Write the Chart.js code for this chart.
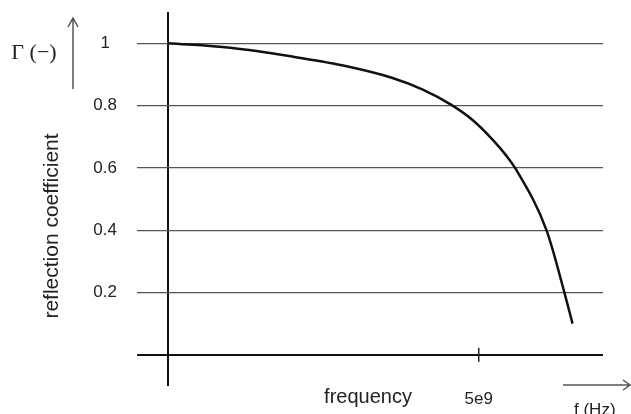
<!DOCTYPE html>
<html>
<head>
<meta charset="utf-8">
<script src="https://cdn.jsdelivr.net/npm/chart.js@4"></script>
<style>
  html, body { margin: 0; padding: 0; background: #fff; }
  #wrap { width: 631px; height: 414px; }
</style>
</head>
<body>
<div id="wrap"><canvas id="gammaChart" width="631" height="414"></canvas></div>
<script>
// frequency in GHz
const freqGHz = [0, 1.0, 2.0, 2.8, 3.6, 4.1, 4.56, 4.91, 5.23, 5.44, 5.60, 6.09, 6.38, 6.51];
// reflection coefficient at those frequencies
const gamma = [1.0, 0.985, 0.957, 0.929, 0.889, 0.851, 0.802, 0.752, 0.689, 0.640, 0.595, 0.40, 0.199, 0.10];
// tick values shown on the axes
const yTicks = [0, 0.2, 0.4, 0.6, 0.8, 1];
const xTicks = [0, 5e9];

const points = freqGHz.map((f, i) => ({ x: f * 1e9, y: gamma[i] }));

// axis tick at 5e9, arrows and axis texts
const decorations = {
  id: 'decorations',
  afterDraw(chart) {
    const ctx = chart.ctx;
    const xs = chart.scales.x;
    const ys = chart.scales.y;
    const y0 = ys.getPixelForValue(0);
    const xt = xs.getPixelForValue(5e9);

    ctx.save();
    // small tick mark on the frequency axis
    ctx.strokeStyle = '#222';
    ctx.lineWidth = 1.5;
    ctx.beginPath();
    ctx.moveTo(xt, y0 - 7);
    ctx.lineTo(xt, y0 + 7);
    ctx.stroke();

    // arrows
    ctx.strokeStyle = '#555';
    ctx.lineWidth = 1.5;
    ctx.beginPath();
    ctx.moveTo(73, 89); ctx.lineTo(73, 19);
    ctx.moveTo(68, 27); ctx.lineTo(73, 18); ctx.lineTo(78, 27);
    ctx.moveTo(563, 385); ctx.lineTo(630, 385);
    ctx.moveTo(623, 380); ctx.lineTo(630, 385); ctx.lineTo(623, 390);
    ctx.stroke();

    ctx.fillStyle = '#222';
    ctx.font = '22px "Liberation Serif"';
    ctx.textAlign = 'center';
    ctx.textBaseline = 'middle';
    ctx.fillText('\u0393 (\u2212)', 34, 53);

    ctx.font = '20px "Liberation Sans"';
    ctx.textBaseline = 'alphabetic';
    ctx.fillText('frequency', 368, 403);

    ctx.font = '17px "Liberation Sans"';
    ctx.textAlign = 'left';
    ctx.fillText('f (Hz)', 574, 415);

    ctx.translate(52, 226);
    ctx.rotate(-Math.PI / 2);
    ctx.font = '21px "Liberation Sans"';
    ctx.textAlign = 'center';
    ctx.textBaseline = 'middle';
    ctx.fillText('reflection coefficient', 0, 0);
    ctx.restore();
  }
};

new Chart(document.getElementById('gammaChart').getContext('2d'), {
  type: 'line',
  data: {
    datasets: [{
      data: points,
      borderColor: '#111',
      borderWidth: 2.5,
      pointRadius: 0,
      fill: false,
      cubicInterpolationMode: 'monotone'
    }]
  },
  options: {
    responsive: false,
    animation: false,
    layout: { padding: { top: 12, right: 28, left: 0, bottom: 0 } },
    plugins: { legend: { display: false }, tooltip: { enabled: false } },
    scales: {
      x: {
        type: 'linear',
        min: -0.5e9,
        max: 7e9,
        afterBuildTicks: s => { s.ticks = xTicks.map(v => ({ value: v })); },
        afterFit: s => { s.height = 28; s.paddingLeft = 0; s.paddingRight = 0; },
        border: { display: false },
        grid: {
          drawTicks: false,
          color: c => (c.tick && c.tick.value === 0) ? '#111' : 'rgba(0,0,0,0)',
          lineWidth: c => (c.tick && c.tick.value === 0) ? 2 : 0
        },
        ticks: {
          padding: 3,
          color: '#222',
          font: { family: 'Liberation Sans', size: 17 },
          callback: v => (v === 5e9 ? '5e9' : '')
        }
      },
      y: {
        min: -0.1,
        max: 1.1,
        afterBuildTicks: s => { s.ticks = yTicks.map(v => ({ value: v })); },
        afterFit: s => { s.width = 137; s.paddingTop = 0; s.paddingBottom = 0; },
        border: { display: false },
        grid: {
          drawTicks: false,
          color: c => (c.tick && c.tick.value === 0) ? '#111' : '#555',
          lineWidth: c => (c.tick && c.tick.value === 0) ? 2 : 1.2
        },
        ticks: {
          padding: 20,
          crossAlign: 'center',
          color: '#222',
          font: { family: 'Liberation Sans', size: 17 },
          callback: v => (v === 0 ? '' : String(v))
        }
      }
    }
  },
  plugins: [decorations]
});
</script>
</body>
</html>
